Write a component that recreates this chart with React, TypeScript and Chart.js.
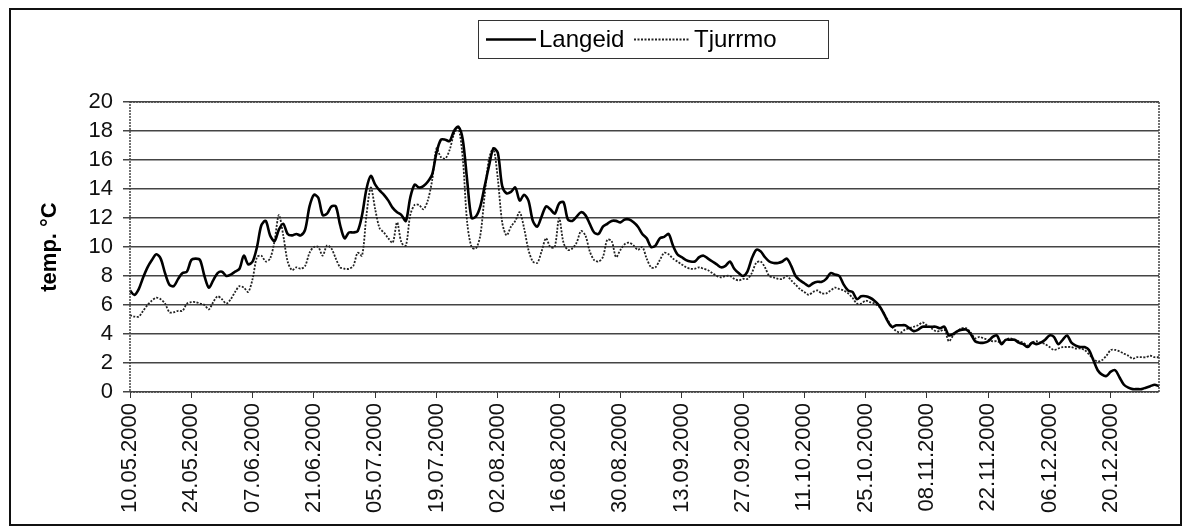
import React, { useEffect, useRef } from 'react';
import { Chart, registerables } from 'chart.js';

Chart.register(...registerables);

// ---- data ----
const startYear = 2000;
const startMonth = 5; // May
const startDay = 10;
const seriesNames = ['Langeid', 'Tjurrmo'];

const langeid = [
  7.0, 6.7, 7.1, 7.9, 8.6, 9.1, 9.5, 9.2, 8.2, 7.4,
  7.3, 7.8, 8.2, 8.3, 9.1, 9.2, 9.1, 8.0, 7.2, 7.7,
  8.2, 8.3, 8.0, 8.1, 8.3, 8.5, 9.4, 8.8, 9.0, 10.0,
  11.5, 11.8, 10.8, 10.4, 11.2, 11.6, 10.9, 10.8, 10.9, 10.8,
  11.2, 12.8, 13.6, 13.4, 12.2, 12.3, 12.8, 12.8, 11.5, 10.6,
  11.0, 11.0, 11.1, 12.2, 14.0, 14.9, 14.3, 13.9, 13.6, 13.2,
  12.7, 12.4, 12.2, 11.8, 13.4, 14.3, 14.1, 14.2, 14.5, 15.0,
  16.5, 17.4, 17.4, 17.3, 18.0, 18.3, 17.4, 14.6, 12.0, 12.1,
  12.8, 14.2, 15.6, 16.8, 16.5, 14.2, 13.7, 13.8, 14.1, 13.2,
  13.6, 13.2, 11.8, 11.4, 12.1, 12.8, 12.6, 12.3, 13.0, 13.1,
  11.9, 11.8, 12.1, 12.4, 12.2, 11.6, 11.0, 10.9, 11.4, 11.6,
  11.8, 11.8, 11.7, 11.9, 11.9, 11.7, 11.4, 10.9, 10.6, 10.0,
  10.1, 10.6, 10.7, 10.9, 10.1, 9.5, 9.3, 9.1, 9.0, 9.0,
  9.3, 9.4, 9.2, 9.0, 8.8, 8.6, 8.7, 9.0, 8.5, 8.2,
  8.0, 8.3, 9.2, 9.8, 9.7, 9.3, 9.0, 8.9, 8.9, 9.0,
  9.2, 8.7, 8.0, 7.7, 7.5, 7.3, 7.5, 7.6, 7.6, 7.8,
  8.2, 8.1, 8.0, 7.4, 7.0, 6.9, 6.4, 6.6, 6.6, 6.5,
  6.3, 6.0, 5.5, 4.9, 4.5, 4.6, 4.6, 4.6, 4.4, 4.2,
  4.3, 4.5, 4.5, 4.5, 4.5, 4.4, 4.5, 3.9, 4.0, 4.2,
  4.3, 4.3, 4.0, 3.5, 3.4, 3.4, 3.5, 3.8, 3.9, 3.3,
  3.6, 3.6, 3.6, 3.4, 3.3, 3.1, 3.4, 3.3, 3.4, 3.6,
  3.9, 3.8, 3.3, 3.6, 3.9, 3.4, 3.2, 3.1, 3.1, 2.9,
  2.2, 1.5, 1.2, 1.1, 1.4, 1.5, 1.0, 0.5, 0.3, 0.2,
  0.2, 0.2, 0.3, 0.4, 0.5, 0.4,
];

const tjurrmo = [
  5.3, 5.2, 5.2, 5.6, 6.0, 6.3, 6.5, 6.4, 6.1, 5.5,
  5.5, 5.6, 5.6, 6.1, 6.2, 6.2, 6.1, 6.0, 5.7, 6.2,
  6.6, 6.4, 6.1, 6.4, 6.9, 7.3, 7.2, 6.9, 7.8, 9.3,
  9.4, 9.0, 9.2, 10.4, 12.2, 10.8, 9.0, 8.4, 8.6, 8.5,
  8.7, 9.6, 10.0, 10.0, 9.4, 10.1, 9.9, 9.2, 8.6, 8.5,
  8.5, 8.7, 9.6, 9.4, 12.2, 14.1, 12.6, 11.3, 11.0, 10.6,
  10.3, 11.7, 10.3, 10.1, 12.2, 12.9, 12.9, 12.6, 13.2, 14.6,
  16.8, 16.2, 16.1, 16.7, 17.8, 18.2, 16.1, 11.7, 10.0, 9.9,
  10.8, 13.6, 16.1, 16.8, 14.7, 11.7, 10.8, 11.4, 11.8, 12.4,
  11.3, 9.8, 9.0, 8.9, 9.7, 10.6, 10.0, 10.0, 12.0, 10.3,
  9.8, 9.9, 10.3, 11.1, 10.8, 9.7, 9.1, 9.0, 9.3, 10.5,
  10.4, 9.3, 9.8, 10.2, 10.3, 10.1, 9.8, 10.0, 9.2, 8.6,
  8.6, 9.1, 9.6, 9.5, 9.2, 9.0, 8.8, 8.6, 8.5, 8.5,
  8.6, 8.5, 8.4, 8.2, 8.0, 7.9, 8.0, 8.0, 7.8, 7.7,
  7.8, 7.8, 8.2, 8.9, 9.0, 8.6, 8.0, 7.9, 7.8, 7.8,
  8.0, 7.7, 7.4, 7.1, 6.9, 6.7, 6.9, 7.0, 6.8, 6.8,
  7.0, 7.2, 7.1, 7.0, 6.8, 6.5, 6.1, 6.1, 6.3, 6.2,
  6.1, 5.9, 5.5, 5.0, 4.5, 4.2, 4.1, 4.3, 4.4, 4.5,
  4.6, 4.8, 4.6, 4.4, 4.2, 4.2, 4.3, 3.5, 3.9, 4.2,
  4.4, 4.4, 4.1, 3.7, 3.8, 3.7, 3.6, 3.5, 3.5, 3.4,
  3.6, 3.7, 3.6, 3.5, 3.4, 3.2, 3.4, 3.5, 3.4, 3.3,
  3.1, 2.9, 3.0, 3.1, 3.1, 3.1, 3.0, 3.0, 2.9, 2.6,
  2.3, 2.1, 2.2, 2.5, 2.9, 2.9, 2.8, 2.65, 2.5, 2.3,
  2.4, 2.4, 2.4, 2.5, 2.4, 2.4,
];

const yMin = 0;
const yMax = 20;
const yStep = 2;
const labelEveryDays = 14;
const yTitle = 'temp. °C';

function pad2(n: number) {
  return n < 10 ? '0' + n : String(n);
}

function dayLabels(count: number): string[] {
  const out: string[] = [];
  for (let i = 0; i < count; i++) {
    const d = new Date(Date.UTC(startYear, startMonth - 1, startDay + i));
    out.push(pad2(d.getUTCDate()) + '.' + pad2(d.getUTCMonth() + 1) + '.' + d.getUTCFullYear());
  }
  return out;
}

const FONT = '"Liberation Sans", Arial, Helvetica, sans-serif';
const W = 1185;
const H = 530;

const decorPlugin = {
  id: 'decor',
  afterDraw(chart: any) {
    const ctx = chart.ctx as CanvasRenderingContext2D;
    const a = chart.chartArea;
    ctx.save();
    // plot area border (dotted)
    ctx.setLineDash([2, 1]);
    ctx.strokeStyle = '#444';
    ctx.lineWidth = 1.5;
    ctx.strokeRect(a.left, a.top, a.right - a.left, a.bottom - a.top);
    ctx.setLineDash([]);

    // outer frame
    ctx.strokeStyle = '#111';
    ctx.lineWidth = 2;
    ctx.strokeRect(10, 9, 1171, 516);

    // legend
    const lx = 478, ly = 20, lw = 350, lh = 38;
    ctx.lineWidth = 1;
    ctx.strokeStyle = '#333';
    ctx.strokeRect(lx + 0.5, ly + 0.5, lw, lh);
    const cy = ly + lh / 2 + 0.5;
    ctx.strokeStyle = '#000';
    ctx.lineWidth = 2.5;
    ctx.beginPath();
    ctx.moveTo(486, cy);
    ctx.lineTo(536, cy);
    ctx.stroke();
    ctx.font = '24px ' + FONT;
    ctx.fillStyle = '#000';
    ctx.textBaseline = 'middle';
    ctx.textAlign = 'left';
    ctx.fillText(seriesNames[0], 539, cy + 1);
    ctx.setLineDash([2, 1.5]);
    ctx.lineWidth = 1.8;
    ctx.strokeStyle = '#222';
    ctx.beginPath();
    ctx.moveTo(634, cy);
    ctx.lineTo(690, cy);
    ctx.stroke();
    ctx.setLineDash([]);
    ctx.fillText(seriesNames[1], 694, cy + 1);

    // y title
    ctx.translate(50, (a.top + a.bottom) / 2);
    ctx.rotate(-Math.PI / 2);
    ctx.font = 'bold 22px ' + FONT;
    ctx.textAlign = 'center';
    ctx.textBaseline = 'middle';
    ctx.fillText(yTitle, 0, 0);
    ctx.restore();
  },
};

export default function App() {
  const ref = useRef<HTMLCanvasElement | null>(null);

  useEffect(() => {
    if (!ref.current) return;
    const labels = dayLabels(langeid.length);
    const chart = new Chart(ref.current, {
      type: 'line',
      data: {
        labels,
        datasets: [
          {
            label: seriesNames[0],
            data: langeid,
            borderColor: '#000',
            borderWidth: 2.6,
            pointRadius: 0,
            tension: 0.3,
            fill: false,
          },
          {
            label: seriesNames[1],
            data: tjurrmo,
            borderColor: '#222',
            borderWidth: 1.8,
            borderDash: [2, 1.5],
            pointRadius: 0,
            tension: 0.3,
            fill: false,
          },
        ],
      },
      options: {
        animation: false,
        responsive: false,
        devicePixelRatio: 1,
        layout: { padding: { left: 0, right: 26, top: 102, bottom: 0 } },
        plugins: {
          legend: { display: false },
          tooltip: { enabled: false },
          title: { display: false },
        },
        scales: {
          x: {
            type: 'category',
            offset: false,
            border: { display: false },
            grid: {
              drawOnChartArea: false,
              drawTicks: true,
              tickLength: 6,
              color: '#333',
              lineWidth: 1,
            },
            ticks: {
              autoSkip: false,
              maxRotation: 90,
              minRotation: 90,
              padding: 5,
              color: '#111',
              font: { size: 22, family: FONT },
            },
            afterBuildTicks: (s: any) => {
              s.ticks = s.ticks.filter((t: any) => t.value % labelEveryDays === 0);
            },
            afterFit: (s: any) => {
              s.height = 138;
            },
          },
          y: {
            min: yMin,
            max: yMax,
            border: { display: false },
            grid: {
              color: '#444',
              lineWidth: 1.5,
              drawTicks: true,
              tickLength: 7,
            },
            ticks: {
              stepSize: yStep,
              autoSkip: false,
              padding: 10,
              color: '#111',
              font: { size: 22, family: FONT },
            },
            afterFit: (s: any) => {
              s.width = 130;
            },
          },
        },
      },
      plugins: [decorPlugin],
    } as any);
    return () => chart.destroy();
  }, []);

  return (
    <div style={{ position: 'absolute', left: 0, top: 0, width: W, height: H, background: '#fff' }}>
      <canvas ref={ref} width={W} height={H} style={{ display: 'block', width: W, height: H }} />
    </div>
  );
}
